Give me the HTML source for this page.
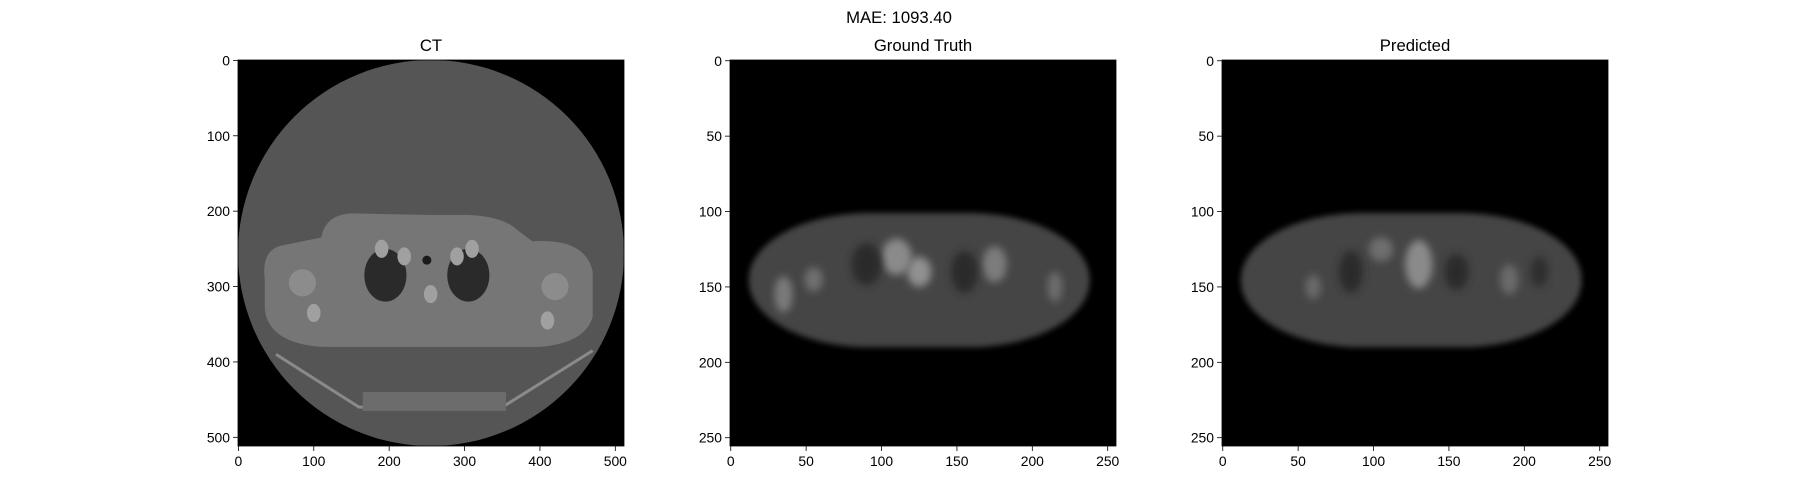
<!DOCTYPE html>
<html><head><meta charset="utf-8"><style>
body{margin:0;background:#fff;}
svg{display:block;font-family:"Liberation Sans","DejaVu Sans",sans-serif;}
</style></head><body>
<svg id="fig" width="1800" height="500" viewBox="0 0 1800 500" xmlns="http://www.w3.org/2000/svg">
<defs>
<filter id="b2" x="-20%" y="-20%" width="140%" height="140%"><feGaussianBlur stdDeviation="3"/></filter>
<filter id="b4" x="-30%" y="-30%" width="160%" height="160%"><feGaussianBlur stdDeviation="4"/></filter>
<clipPath id="c1"><rect x="238" y="60" width="386" height="386"/></clipPath>
<clipPath id="c2"><rect x="730" y="60" width="386" height="386"/></clipPath>
<clipPath id="c3"><rect x="1222" y="60" width="386" height="386"/></clipPath>
</defs>
<text x="899" y="23" font-size="16.7" text-anchor="middle" fill="#000">MAE: 1093.40</text>
<g id="ax1"></g>
<g id="ax2"></g>
<g id="ax3"></g>
</svg>
<script>
const panelTitles = ["CT", "Ground Truth", "Predicted"];
const panelSizes = [512, 256, 256];
const ctTicks = [0, 100, 200, 300, 400, 500];
const petTicks = [0, 50, 100, 150, 200, 250];
const panelLefts = [238, 730, 1222];
const NS = "http://www.w3.org/2000/svg";
const TOP = 60, W = 386;
function mk(tag, attrs, parent){const e=document.createElementNS(NS,tag);for(const k in attrs)e.setAttribute(k,attrs[k]);parent.appendChild(e);return e;}
function scale(i){const n=panelSizes[i];return v=>(v+0.5)/n*W;}

function drawCT(g, sx, L){
  const X=v=>L+sx(v), Y=v=>TOP+sx(v), R=v=>v/512*W;
  mk('rect',{x:L,y:TOP,width:W,height:W,fill:'#000'},g);
  mk('circle',{cx:X(255.5),cy:Y(255.5),r:R(256),fill:'#555'},g);
  const body=mk('path',{d:`M${X(35)} ${Y(290)} Q${X(30)} ${Y(250)} ${X(60)} ${Y(245)} L${X(110)} ${Y(235)} Q${X(115)} ${Y(205)} ${X(150)} ${Y(203)} L${X(250)} ${Y(205)} L${X(300)} ${Y(205)} Q${X(350)} ${Y(206)} ${X(370)} ${Y(225)} L${X(390)} ${Y(240)} Q${X(460)} ${Y(235)} ${X(470)} ${Y(280)} L${X(470)} ${Y(340)} Q${X(460)} ${Y(375)} ${X(400)} ${Y(380)} L${X(110)} ${Y(380)} Q${X(40)} ${Y(375)} ${X(35)} ${Y(330)} Z`,fill:'#767676'},g);
  
  
  mk('ellipse',{cx:X(195),cy:Y(285),rx:R(28),ry:R(35),fill:'#2a2a2a'},g);
  mk('ellipse',{cx:X(305),cy:Y(285),rx:R(28),ry:R(35),fill:'#2a2a2a'},g);
  mk('ellipse',{cx:X(250),cy:Y(265),rx:R(6),ry:R(6),fill:'#1a1a1a'},g);
  [[85,295],[420,300]].forEach(p=>mk('circle',{cx:X(p[0]),cy:Y(p[1]),r:R(18),fill:'#8c8c8c'},g));
  [[220,260],[290,260],[100,335],[410,345],[255,310],[190,250],[310,250]].forEach(p=>mk('ellipse',{cx:X(p[0]),cy:Y(p[1]),rx:R(9),ry:R(12),fill:'#a0a0a0'},g));
  mk('path',{d:`M${X(50)} ${Y(390)} L${X(160)} ${Y(460)} L${X(350)} ${Y(460)} L${X(470)} ${Y(385)}`,stroke:'#8a8a8a','stroke-width':3,fill:'none'},g);
  mk('rect',{x:X(165),y:Y(440),width:R(190),height:R(25),fill:'#6c6c6c'},g);
}
function drawPET(g, sx, L, spots){
  const X=v=>L+sx(v), Y=v=>TOP+sx(v), R=v=>v/256*W;
  mk('rect',{x:L,y:TOP,width:W,height:W,fill:'#000'},g);
  mk('rect',{x:X(12),y:Y(101),width:R(226),height:R(89),rx:R(80),ry:R(44),fill:'#444',filter:'url(#b2)'},g);
  spots.forEach(s=>mk('ellipse',{cx:X(s[0]),cy:Y(s[1]),rx:R(s[2]),ry:R(s[3]),fill:s[4],filter:'url(#b4)'},g));
}
const gtSpots=[[110,130,10,12,'#8a8a8a'],[125,140,8,10,'#909090'],[175,135,8,12,'#7c7c7c'],[35,155,6,12,'#7a7a7a'],[55,145,6,8,'#707070'],[215,150,5,10,'#6c6c6c'],[90,135,10,14,'#2a2a2a'],[155,140,9,14,'#2c2c2c']];
const prSpots=[[130,135,9,16,'#8a8a8a'],[105,125,8,8,'#6e6e6e'],[60,150,5,8,'#6a6a6a'],[190,145,6,10,'#6a6a6a'],[85,140,8,14,'#2a2a2a'],[155,140,8,12,'#2c2c2c'],[210,140,6,10,'#2e2e2e']];

for(let i=0;i<3;i++){
  const g=document.getElementById('ax'+(i+1));
  const L=panelLefts[i], sx=scale(i);
  const img=mk('g',{'clip-path':`url(#c${i+1})`},g);
  
  
  if(i===0) drawCT(img,sx,L); else drawPET(img,sx,L,i===1?gtSpots:prSpots);
  mk('rect',{x:L,y:TOP,width:W,height:W,fill:'none',stroke:'#000','stroke-width':0.8},g);
  const t=mk('text',{x:L+W/2,y:51,'font-size':16.7,'text-anchor':'middle',fill:'#000'},g);
  t.textContent=panelTitles[i];
  
  
  const ticks=i===0?ctTicks:petTicks;
  ticks.forEach(v=>{
    const px=L+sx(v), py=TOP+sx(v);
    mk('line',{x1:px,y1:TOP+W,x2:px,y2:TOP+W+5,stroke:'#000','stroke-width':0.8},g);
    const xl=mk('text',{x:px,y:TOP+W+20,'font-size':13.9,'text-anchor':'middle',fill:'#000'},g);
    xl.textContent=v;
    
    
    mk('line',{x1:L,y1:py,x2:L-5,y2:py,stroke:'#000','stroke-width':0.8},g);
    const yl=mk('text',{x:L-8,y:py+5,'font-size':13.9,'text-anchor':'end',fill:'#000'},g);
    yl.textContent=v;
    
    
  });
}
</script>
</body></html>
